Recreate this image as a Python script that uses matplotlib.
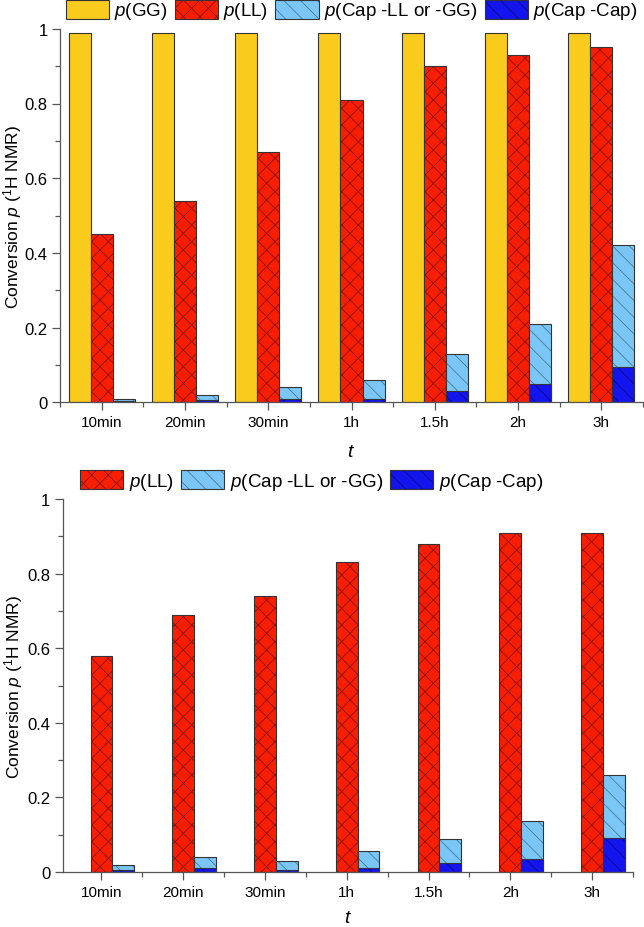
import numpy as np
import matplotlib
matplotlib.use('Agg')
import matplotlib.pyplot as plt
from matplotlib.patches import Patch
from matplotlib.legend_handler import HandlerTuple

plt.rcParams['font.family'] = ['Liberation Sans', 'DejaVu Sans']
plt.rcParams['mathtext.fontset'] = 'custom'
plt.rcParams['mathtext.rm'] = 'Liberation Sans'
plt.rcParams['mathtext.it'] = 'Liberation Sans:italic'
plt.rcParams['hatch.linewidth'] = 0.6

# data
times = ['10min', '20min', '30min', '1h', '1.5h', '2h', '3h']

# top panel
gg_top = [0.99, 0.99, 0.99, 0.99, 0.99, 0.99, 0.99]
ll_top = [0.45, 0.54, 0.67, 0.81, 0.90, 0.93, 0.95]
capll_top = [0.01, 0.02, 0.04, 0.06, 0.13, 0.21, 0.42]
capcap_top = [0.003, 0.005, 0.01, 0.01, 0.029, 0.05, 0.094]

# bottom panel
ll_bot = [0.58, 0.69, 0.74, 0.83, 0.88, 0.91, 0.91]
capll_bot = [0.019, 0.04, 0.029, 0.056, 0.088, 0.137, 0.26]
capcap_bot = [0.006, 0.012, 0.006, 0.01, 0.025, 0.035, 0.09]

yel = '#f9cb1d'
red = '#f81e04'
red_h = '#8a1205'
lblue = '#7ac7f7'
lblue_h = '#4a7a9a'
blue = '#1414ee'
blue_h = '#0a0a80'
edge = '#333333'
spine = '#555555'

W = 0.265
x = np.arange(len(times))

fig = plt.figure(figsize=(6.44, 9.28), dpi=100)
FW, FH = 644.0, 928.0

def px_axes(l, r, top, bot):
    return fig.add_axes([l / FW, 1 - bot / FH, (r - l) / FW, (bot - top) / FH])

def hbar(ax, xs, h, face, hatch, hcol):
    ax.bar(xs, h, W, color=face, edgecolor=hcol, hatch=hatch, linewidth=0)
    ax.bar(xs, h, W, fill=False, edgecolor=edge, linewidth=0.8)

def handle(face, hatch, hcol):
    p1 = Patch(facecolor=face, edgecolor=hcol, hatch=hatch, linewidth=0)
    p2 = Patch(fill=False, edgecolor=edge, linewidth=0.8)
    return (p1, p2)

def style(ax, tpad):
    for s in ['top', 'right']:
        ax.spines[s].set_visible(False)
    for s in ['left', 'bottom']:
        ax.spines[s].set_color(spine)
        ax.spines[s].set_linewidth(0.9)
    ax.set_ylim(0, 1)
    ax.set_xlim(-0.5, 6.5)
    ax.set_yticks([0, 0.2, 0.4, 0.6, 0.8, 1.0])
    ax.set_yticklabels(['0', '0.2', '0.4', '0.6', '0.8', '1'])
    ax.set_yticks(np.arange(0.1, 1.0, 0.2), minor=True)
    ax.set_xticks(x)
    ax.set_xticklabels(times)
    ax.set_xticks(np.arange(-0.5, 7.0, 1.0), minor=True)
    ax.tick_params(which='major', direction='out', length=6, width=0.9,
                   color=spine)
    ax.tick_params(which='minor', direction='out', length=3.5, width=0.9,
                   color=spine)
    ax.tick_params(axis='x', which='major', pad=3.5, labelsize=11)
    ax.tick_params(axis='y', which='major', pad=3, labelsize=12)
    ax.set_ylabel(r'Conversion $\it{p}$ ($^{1}$H NMR)', fontsize=12.5)
    ax.set_xlabel(r'$\it{t}$', fontsize=14, labelpad=tpad)

h_gg = (Patch(facecolor=yel, edgecolor=edge, linewidth=0.8),)
h_ll = handle(red, 'xx', red_h)
h_cl = handle(lblue, '\\\\', lblue_h)
h_cc = handle(blue, '\\\\', blue_h)
lab_gg = r'$\it{p}$(GG)'
lab_ll = r'$\it{p}$(LL)'
lab_cl = r'$\it{p}$(Cap -LL or -GG)'
lab_cc = r'$\it{p}$(Cap -Cap)'
leg_kw = dict(handler_map={tuple: HandlerTuple(ndivide=1)},
              loc='center left', frameon=False, fontsize=13.5,
              handlelength=2.3, handleheight=1.18, handletextpad=0.3,
              columnspacing=0.37, borderpad=0, borderaxespad=0)

# ---- top
ax1 = px_axes(60, 643, 29.8, 403.3)
hbar(ax1, x - W, gg_top, yel, None, edge)
hbar(ax1, x, ll_top, red, 'xx', red_h)
hbar(ax1, x + W, capll_top, lblue, '\\\\', lblue_h)
hbar(ax1, x + W, capcap_top, blue, '\\\\', blue_h)
style(ax1, 10)
ax1.yaxis.set_label_coords(-0.061, 0.5)

fig.legend([h_gg, h_ll, h_cl, h_cc], [lab_gg, lab_ll, lab_cl, lab_cc],
           bbox_to_anchor=(65.5 / FW, 1 - 11.5 / FH), ncol=4, **leg_kw)

# ---- bottom
ax2 = px_axes(63, 633, 500, 873)
hbar(ax2, x, ll_bot, red, 'xx', red_h)
hbar(ax2, x + W, capll_bot, lblue, '\\\\', lblue_h)
hbar(ax2, x + W, capcap_bot, blue, '\\\\', blue_h)
style(ax2, 7)
ax2.set_xlim(-0.47, 6.5)
ax2.yaxis.set_label_coords(-0.067, 0.5)

fig.legend([h_ll, h_cl, h_cc], [lab_ll, lab_cl, lab_cc],
           bbox_to_anchor=(80 / FW, 1 - 482 / FH), ncol=3, **leg_kw)

fig.savefig('out.png', dpi=100)
